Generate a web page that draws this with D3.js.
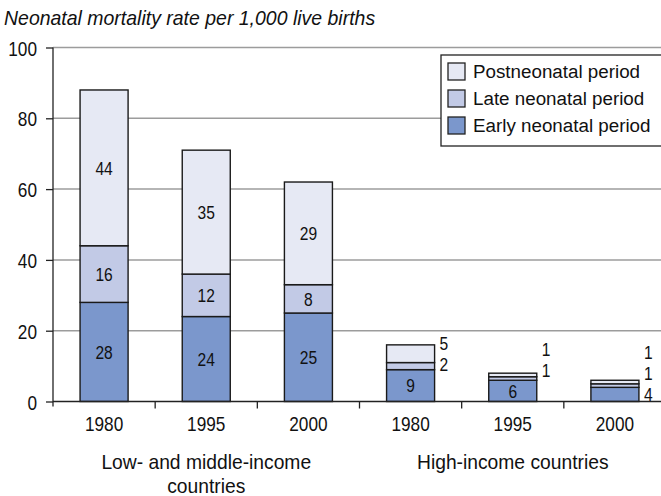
<!DOCTYPE html>
<html>
<head>
<meta charset="utf-8">
<script src="https://cdn.jsdelivr.net/npm/d3@7"></script>
<style>
  body { margin: 0; background: #fff; }
  svg text { font-family: "Liberation Sans", Arial, sans-serif; fill: #111; }
</style>
</head>
<body>
<div id="chart"></div>
<script>
// categories
var groups = ["Low- and middle-income countries", "High-income countries"]
var years = ["1980", "1995", "2000", "1980", "1995", "2000"]
var groupOf = [0, 0, 0, 1, 1, 1]
// series values (per 1,000 live births)
var early = [28, 24, 25, 9, 6, 4]
var late = [16, 12, 8, 2, 1, 1]
var post = [44, 35, 29, 5, 1, 1]
var seriesNames = ["Early neonatal period", "Late neonatal period", "Postneonatal period"]
var seriesColors = ["#7b97cc", "#c2cae6", "#e6e9f4"]
var yTicks = [0, 20, 40, 60, 80, 100]

var width = 661, height = 496
var NARROW = 0.82 // squeeze Liberation Sans digits into a narrow face
var svg = d3.select("#chart").append("svg").attr("width", width).attr("height", height)

var y = d3.scaleLinear().domain([0, 100]).range([401.5, 47.5])
var x = d3.scaleBand().domain(d3.range(years.length)).range([53, 666]).paddingInner(0.53).paddingOuter(0.265)
var step = x.step()

// text helper with horizontal squeeze
function ntext(parent, tx, ty, str, size, sx) {
  return parent.append("text")
    .attr("transform", "translate(" + tx + "," + ty + ") scale(" + (sx || NARROW) + ",1)")
    .attr("font-size", size + "px")
    .text(str)
}

// title
ntext(svg, 4, 25, "Neonatal mortality rate per 1,000 live births", 20.5, 0.95).attr("font-style", "italic")

// gridlines
svg.append("g").selectAll("line")
  .data(yTicks.filter(d => d > 0))
  .enter().append("line")
  .attr("x1", 53).attr("x2", width)
  .attr("y1", d => y(d)).attr("y2", d => y(d))
  .attr("stroke", "#9c9c9c").attr("stroke-width", 1.5)

// y axis
var yAxis = svg.append("g").attr("transform", "translate(53,0)")
  .call(d3.axisLeft(y).tickValues(yTicks).tickSize(7).tickPadding(0).tickFormat(d3.format("d")))
yAxis.select(".domain").remove()
yAxis.selectAll(".tick line").attr("stroke", "#222").attr("stroke-width", 1.3)
yAxis.selectAll("text")
  .attr("x", -16 / NARROW).attr("transform", "scale(" + NARROW + ",1)")
  .attr("font-size", "21px").attr("fill", "#111").attr("dy", "0.36em")
  .attr("font-family", "'Liberation Sans', Arial, sans-serif")
svg.append("line").attr("x1", 53).attr("x2", 53).attr("y1", y(100)).attr("y2", y(0) + 5)
  .attr("stroke", "#222").attr("stroke-width", 1.3)

// stacks
var rows = years.map((yr, i) => ({ i: i, early: early[i], late: late[i], post: post[i] }))
var stack = d3.stack().keys(["early", "late", "post"])
var layers = stack(rows)

var bars = svg.append("g")
layers.forEach(function (layer, k) {
  bars.append("g").selectAll("rect")
    .data(layer).enter().append("rect")
    .attr("x", d => x(d.data.i))
    .attr("width", x.bandwidth())
    .attr("y", d => y(d[1]))
    .attr("height", d => y(d[0]) - y(d[1]))
    .attr("fill", seriesColors[k])
    .attr("stroke", "#1a1a1a").attr("stroke-width", 1.4)
})

// x baseline + ticks
svg.append("line").attr("x1", 53).attr("x2", width).attr("y1", y(0)).attr("y2", y(0))
  .attr("stroke", "#222").attr("stroke-width", 1.4)
svg.append("g").selectAll("line")
  .data(d3.range(1, years.length))
  .enter().append("line")
  .attr("x1", d => x(d) - step * 0.265).attr("x2", d => x(d) - step * 0.265)
  .attr("y1", y(0)).attr("y2", y(0) + 7)
  .attr("stroke", "#222").attr("stroke-width", 1.3)

// year labels
var yl = svg.append("g")
years.forEach(function (d, i) {
  ntext(yl, x(i) + x.bandwidth() / 2, 431, d, 21).attr("text-anchor", "middle")
})

// group labels
var groupLines = [["Low- and middle-income", "countries"], ["High-income countries"]]
groupLines.forEach(function (lines, g) {
  var idx = groupOf.map((v, i) => v == g ? i : -1).filter(i => i >= 0)
  var cx = x(idx[1]) + x.bandwidth() / 2
  lines.forEach(function (t, j) {
    ntext(svg, cx, 469 + j * 23.5, t, 20.5, 0.94).attr("text-anchor", "middle")
  })
})

// value labels
var labels = svg.append("g")
rows.forEach(function (r, i) {
  var last = null
  layers.forEach(function (layer, k) {
    var d = layer[i]
    var v = d[1] - d[0]
    var h = y(d[0]) - y(d[1])
    var cy = y((d[0] + d[1]) / 2)
    if (h >= 18) {
      ntext(labels, x(i) + x.bandwidth() / 2, cy, v, 19)
        .attr("dy", "0.36em").attr("text-anchor", "middle")
      last = cy
    } else {
      var ly = last == null ? cy : Math.min(cy, last - 21)
      last = ly
      ntext(labels, x(i) + x.bandwidth() + 5, ly, v, 19).attr("dy", "0.36em")
    }
  })
})

// legend
var lg = svg.append("g").attr("transform", "translate(441,55)")
lg.append("rect").attr("width", 240).attr("height", 91)
  .attr("fill", "#fff").attr("stroke", "#222").attr("stroke-width", 1.3)
var order = [2, 1, 0]
order.forEach(function (k, j) {
  lg.append("rect").attr("x", 7).attr("y", 8 + j * 27).attr("width", 17).attr("height", 17)
    .attr("fill", seriesColors[k]).attr("stroke", "#222").attr("stroke-width", 1.3)
  ntext(lg, 32, 16.5 + j * 27, seriesNames[k], 18.8, 1.0).attr("dy", "0.36em")
})
</script>
</body>
</html>
